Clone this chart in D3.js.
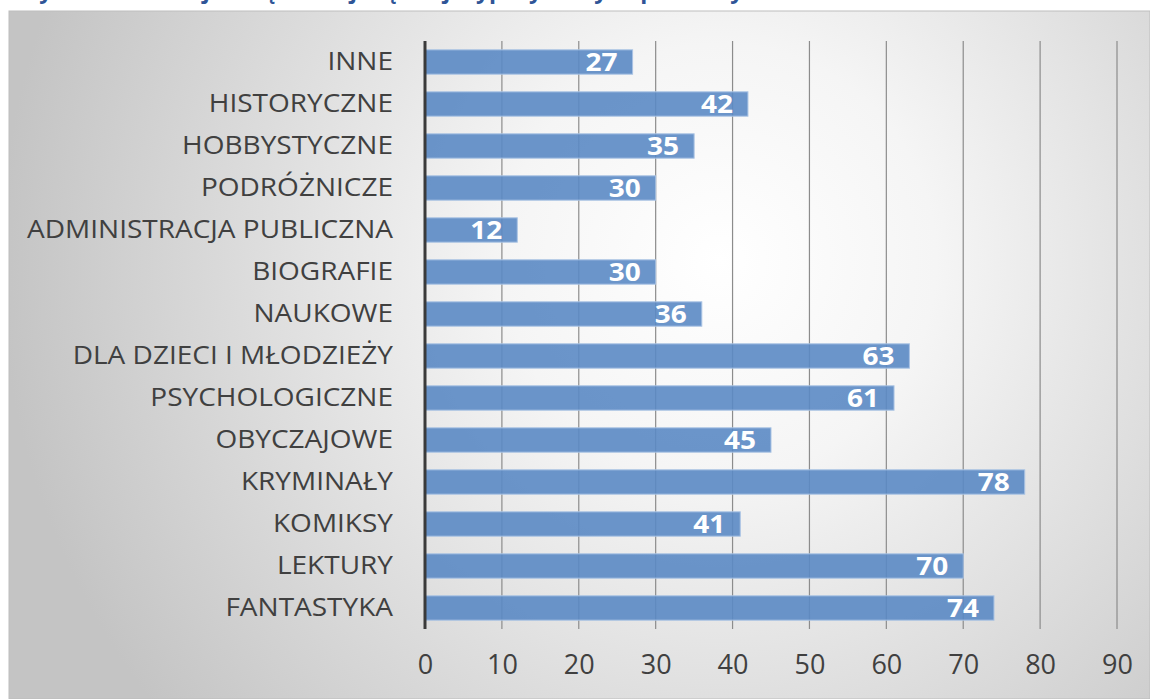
<!DOCTYPE html>
<html>
<head>
<meta charset="utf-8">
<script src="https://cdnjs.cloudflare.com/ajax/libs/d3/7.8.5/d3.min.js"></script>
<style>
  html, body { margin: 0; padding: 0; background: #fff; }
  svg { display: block; font-family: "Open Sans", sans-serif; }
</style>
</head>
<body>
<div id="chart"></div>
<script>
// categories, top to bottom as drawn
var categories = ["INNE", "HISTORYCZNE", "HOBBYSTYCZNE", "PODRÓŻNICZE", "ADMINISTRACJA PUBLICZNA",
  "BIOGRAFIE", "NAUKOWE", "DLA DZIECI I MŁODZIEŻY", "PSYCHOLOGICZNE", "OBYCZAJOWE",
  "KRYMINAŁY", "KOMIKSY", "LEKTURY", "FANTASTYKA"];
var values = [27, 42, 35, 30, 12, 30, 36, 63, 61, 45, 78, 41, 70, 74];
var ticks = [0, 10, 20, 30, 40, 50, 60, 70, 80, 90];
var title = "Wykres 9. Rodzaje książek najchętniej wypożyczanych przez czytelników Biblioteki";

var width = 1150, height = 699;
var stretch = 1.12; // the reference text is drawn a bit wider than Open Sans

var svg = d3.select("#chart").append("svg")
  .attr("width", width)
  .attr("height", height);

// background gradient of the chart panel
var defs = svg.append("defs");
var grad = defs.append("radialGradient")
  .attr("id", "panelGrad")
  .attr("gradientUnits", "userSpaceOnUse")
  .attr("cx", 720).attr("cy", 260).attr("r", 720);
grad.append("stop").attr("offset", "0%").attr("stop-color", "#ffffff");
grad.append("stop").attr("offset", "30%").attr("stop-color", "#f5f5f5");
grad.append("stop").attr("offset", "100%").attr("stop-color", "#c4c4c4");

// title, mostly cut off by the top edge (only descenders show, as in the source)
svg.append("text")
  .attr("x", 17)
  .attr("y", -2)
  .attr("fill", "#2f5597")
  .attr("font-weight", "bold")
  .attr("font-size", 23)
  .text(title);

svg.append("rect")
  .attr("x", 9).attr("y", 11)
  .attr("width", width - 9).attr("height", height - 11)
  .attr("fill", "url(#panelGrad)")
  .attr("stroke", "#bdbdbd")
  .attr("stroke-width", 1);

var x = d3.scaleLinear().domain([0, 90]).range([425, 1117]);
var y = d3.scaleBand().domain(categories).range([41, 629])
  .paddingInner(0.42).paddingOuter(0.21);

// vertical gridlines
svg.append("g")
  .selectAll("line")
  .data(ticks.slice(1))
  .enter()
  .append("line")
    .attr("x1", function(d) { return x(d); })
    .attr("x2", function(d) { return x(d); })
    .attr("y1", 41)
    .attr("y2", 629)
    .attr("stroke", "#8c8c8c")
    .attr("stroke-width", 1.2);

// x tick labels
var xAxis = svg.append("g")
  .attr("transform", "translate(0,629)")
  .call(d3.axisBottom(x).tickValues(ticks).tickSize(0).tickPadding(26));
xAxis.select(".domain").remove();
xAxis.selectAll("text")
  .attr("font-family", "Open Sans, sans-serif")
  .attr("font-size", 27)
  .attr("fill", "#404040");

// category labels, right edge at x = 393
var yAxis = svg.append("g")
  .attr("transform", "translate(393,0)")
  .call(d3.axisLeft(y).tickSize(0).tickPadding(0));
yAxis.select(".domain").remove();
yAxis.selectAll("text")
  .attr("x", 0)
  .attr("transform", "scale(" + stretch + ",1)")
  .attr("font-family", "Open Sans, sans-serif")
  .attr("font-size", 25)
  .attr("fill", "#404040");

// bars
svg.append("g")
  .selectAll("rect")
  .data(values)
  .enter()
  .append("rect")
    .attr("x", x(0))
    .attr("y", function(d, i) { return y(categories[i]); })
    .attr("width", function(d) { return x(d) - x(0); })
    .attr("height", y.bandwidth())
    .attr("fill", "#5b8ac4")
    .attr("fill-opacity", 0.9)
    .attr("stroke", "#a9c3e4")
    .attr("stroke-width", 1);

// value labels
svg.append("g")
  .selectAll("text")
  .data(values)
  .enter()
  .append("text")
    .attr("transform", function(d, i) {
      return "translate(" + (x(d) - 15) + "," + (y(categories[i]) + y.bandwidth() / 2) + ") scale(" + stretch + ",1)";
    })
    .attr("dy", "0.36em")
    .attr("text-anchor", "end")
    .attr("font-size", 25)
    .attr("font-weight", "bold")
    .attr("fill", "#ffffff")
    .text(function(d) { return d; });

// vertical axis line
svg.append("line")
  .attr("x1", x(0)).attr("x2", x(0))
  .attr("y1", 41).attr("y2", 629)
  .attr("stroke", "#3a3a3a")
  .attr("stroke-width", 3);
</script>
</body>
</html>
